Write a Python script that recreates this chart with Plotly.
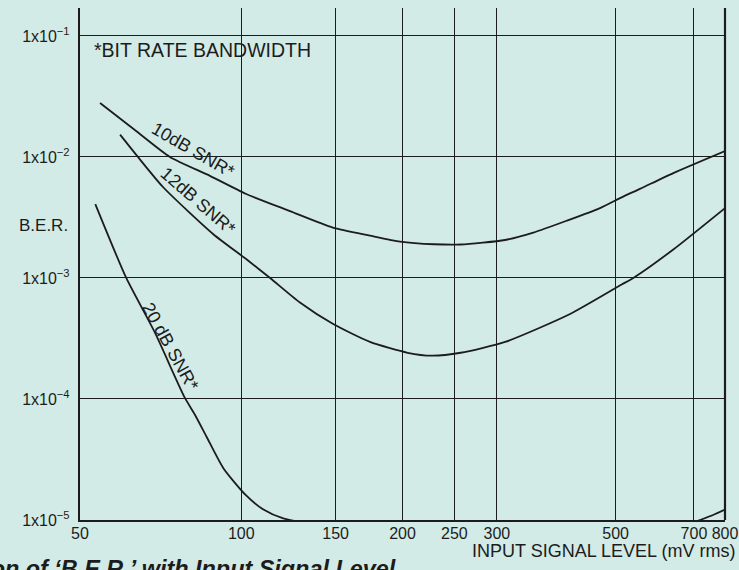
import plotly.graph_objects as go

# ---- data ----
snr10_x = [54.5, 63.3, 73.6, 87.4, 101.9, 123.3, 148.2, 173.9, 197.9, 229, 256.8, 310.8, 351, 405, 467.5, 513, 555, 640.6, 800]
snr10_y = [2.79e-2, 1.67e-2, 1.0e-2, 6.98e-3, 4.97e-3, 3.57e-3, 2.61e-3, 2.24e-3, 2.0e-3, 1.90e-3, 1.89e-3,
           2.06e-3, 2.37e-3, 2.97e-3, 3.78e-3, 4.64e-3, 5.45e-3, 7.36e-3, 1.12e-2]

snr12_x = [59.4, 63.8, 71.5, 88.7, 102.4, 113.2, 128.7, 148.2, 173.9, 204.5, 226.8, 256.8, 310.8, 411, 513, 539.4, 640.6, 800]
snr12_y = [1.53e-2, 1.03e-2, 5.62e-3, 2.30e-3, 1.42e-3, 1.0e-3, 6.27e-4, 4.18e-4, 2.96e-4, 2.41e-4, 2.28e-4,
           2.41e-4, 2.96e-4, 5.04e-4, 8.83e-4, 1.0e-3, 1.72e-3, 3.78e-3]

snr20_x = [53.4, 61.0, 68.9, 78.4, 81.9, 86.2, 92.6, 101.9, 110, 119.8, 140, 300, 650, 718.6, 760, 800]
snr20_y = [4.08e-3, 1.0e-3, 3.58e-4, 1.03e-4, 7.44e-5, 4.85e-5, 2.68e-5, 1.61e-5, 1.22e-5, 1.03e-5, 9.0e-6,
           5.0e-6, 8.5e-6, 1.0e-5, 1.1e-5, 1.22e-5]

x_ticks = [50, 100, 150, 200, 250, 300, 500, 700, 800]
x_tick_labels = ["50", "100", "150", "200", "250", "300", "500", "700", "800"]
y_ticks = [1e-5, 1e-4, 1e-3, 1e-2, 1e-1]
y_tick_labels = ["1x10<sup>−5</sup>", "1x10<sup>−4</sup>", "1x10<sup>−3</sup>",
                 "1x10<sup>−2</sup>", "1x10<sup>−1</sup>"]

curve_labels = ["10dB SNR*", "12dB SNR*", "20 dB SNR*"]

BG = "#d3ebe6"
INK = "#1c1c1c"
FONT = "Liberation Sans, Arial, sans-serif"

fig = go.Figure()
for xs, ys in [(snr10_x, snr10_y), (snr12_x, snr12_y), (snr20_x, snr20_y)]:
    fig.add_trace(go.Scatter(x=xs, y=ys, mode="lines",
                             line=dict(color=INK, width=1.8, shape="spline", smoothing=0.6),
                             showlegend=False, hoverinfo="skip"))

W, H = 739, 570
L, R, T, B = 80, 14, 8, 50
pw, ph = W - L - R, H - T - B

def px(xp):
    return (xp - L) / pw

def py(yp):
    return (H - B - yp) / ph

ann = []
for text, (xp, yp, ang) in zip(curve_labels, [(193, 150, 30), (198, 201, 41), (170, 346, 61)]):
    ann.append(dict(text=text, x=px(xp), y=py(yp), xref="paper", yref="paper",
                    showarrow=False, textangle=ang, font=dict(size=18, color=INK, family=FONT),
                    xanchor="center", yanchor="middle"))
ann.append(dict(text="*BIT RATE BANDWIDTH", x=px(92), y=py(50), xref="paper", yref="paper",
                showarrow=False, xanchor="left", yanchor="middle",
                font=dict(size=19.5, color=INK, family=FONT)))
ann.append(dict(text="B.E.R.", x=px(17), y=py(225), xref="paper", yref="paper",
                showarrow=False, xanchor="left", yanchor="middle",
                font=dict(size=17, color=INK, family=FONT)))
ann.append(dict(text="INPUT SIGNAL LEVEL (mV rms)", x=px(737), y=py(550.5), xref="paper", yref="paper",
                showarrow=False, xanchor="right", yanchor="middle",
                font=dict(size=18, color=INK, family=FONT)))
ann.append(dict(text="<b><i>Variation of ‘B.E.R.’ with Input Signal Level</i></b>",
                x=px(398), y=py(554), xref="paper", yref="paper",
                showarrow=False, xanchor="right", yanchor="top",
                font=dict(size=23.4, color=INK, family=FONT)))

fig.update_layout(
    width=W, height=H,
    margin=dict(l=L, r=R, t=T, b=B, autoexpand=False),
    paper_bgcolor=BG, plot_bgcolor=BG,
    font=dict(family=FONT, color=INK),
    annotations=ann,
    shapes=[dict(type="line", xref="paper", yref="paper", x0=1, x1=1, y0=0, y1=1,
                 line=dict(color=INK, width=2.2))],
)

fig.update_xaxes(type="log", range=[1.69897, 2.90309],
                 tickvals=x_ticks, ticktext=x_tick_labels,
                 tickfont=dict(size=16, color=INK, family=FONT),
                 showgrid=True, gridcolor=INK, gridwidth=1.3,
                 showline=True, linecolor=INK, linewidth=2.4,
                 ticks="", ticklabelstandoff=-2, zeroline=False)

fig.update_yaxes(type="log", range=[-5, -0.769],
                 tickvals=y_ticks, ticktext=y_tick_labels,
                 tickfont=dict(size=16, color=INK, family=FONT),
                 showgrid=True, gridcolor=INK, gridwidth=1.3,
                 showline=True, linecolor=INK, linewidth=2.4,
                 ticks="", ticklabelstandoff=5, zeroline=False)

fig.write_html("out.html", config={"displayModeBar": False},
               post_script="document.body.style.margin='0';document.body.style.background='" + BG + "';")
